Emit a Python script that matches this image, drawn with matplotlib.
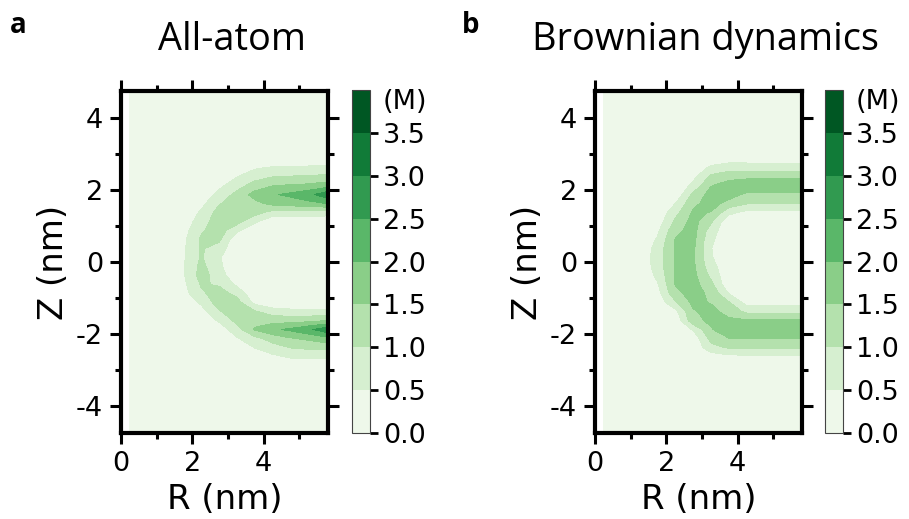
import matplotlib
matplotlib.use("Agg")
import matplotlib.pyplot as plt
import numpy as np
from matplotlib.ticker import MultipleLocator

plt.rcParams["axes.unicode_minus"] = False

# grid of the concentration maps (nm)
r_nm = [0.25, 0.75, 1.25, 1.75, 2.25, 2.75, 3.25, 3.75, 4.25, 4.75, 5.25, 5.75]
z_nm = [4.75, 2.875, 2.625, 2.375, 2.125, 1.875, 1.625, 1.375, 1.125, 0.875, 0.625, 0.375, 0.125,
        -0.125, -0.375, -0.625, -0.875, -1.125, -1.375, -1.625, -1.875, -2.125, -2.375, -2.625,
        -2.875, -4.75]

# ion concentration (M), rows follow z_nm, columns follow r_nm
conc_all_atom = [
    [0.1, 0.1, 0.1, 0.1, 0.1, 0.1, 0.1, 0.1, 0.1, 0.1, 0.1, 0.1],
    [0.1, 0.1, 0.1, 0.1, 0.1, 0.1, 0.1, 0.1, 0.1, 0.1, 0.1, 0.1],
    [0.1, 0.1, 0.1, 0.1, 0.1, 0.1, 0.2, 0.43, 0.54, 0.57, 0.58, 0.59],
    [0.1, 0.1, 0.1, 0.1, 0.1, 0.2, 0.48, 0.8, 0.98, 1.02, 1.05, 1.11],
    [0.1, 0.1, 0.1, 0.1, 0.1, 0.38, 0.8, 1.2, 1.48, 1.55, 1.6, 1.75],
    [0.1, 0.1, 0.1, 0.1, 0.15, 0.65, 1.15, 1.7, 1.95, 2.1, 2.35, 2.8],
    [0.1, 0.1, 0.1, 0.1, 0.35, 0.95, 1.3, 1.35, 1.65, 1.75, 1.85, 2.0],
    [0.1, 0.1, 0.1, 0.1, 0.58, 1.2, 1.3, 1.2, 0.8, 0.78, 0.8, 0.75],
    [0.1, 0.1, 0.1, 0.2, 0.75, 1.3, 1.2, 0.6, 0.1, 0.1, 0.1, 0.1],
    [0.1, 0.1, 0.1, 0.3, 0.94, 1.25, 0.6, 0.1, 0.1, 0.1, 0.1, 0.1],
    [0.1, 0.1, 0.1, 0.38, 1.08, 1.1, 0.1, 0.1, 0.1, 0.1, 0.1, 0.1],
    [0.1, 0.1, 0.1, 0.42, 1.06, 0.75, 0.1, 0.1, 0.1, 0.1, 0.1, 0.1],
    [0.1, 0.1, 0.1, 0.44, 1.05, 0.55, 0.1, 0.1, 0.1, 0.1, 0.1, 0.1],
    [0.1, 0.1, 0.1, 0.46, 1.15, 0.6, 0.1, 0.1, 0.1, 0.1, 0.1, 0.1],
    [0.1, 0.1, 0.1, 0.44, 1.2, 0.75, 0.1, 0.1, 0.1, 0.1, 0.1, 0.1],
    [0.1, 0.1, 0.1, 0.38, 1.05, 0.95, 0.4, 0.1, 0.1, 0.1, 0.1, 0.1],
    [0.1, 0.1, 0.1, 0.3, 0.92, 1.2, 0.85, 0.1, 0.1, 0.1, 0.1, 0.1],
    [0.1, 0.1, 0.1, 0.2, 0.58, 1.25, 1.2, 0.35, 0.1, 0.1, 0.1, 0.1],
    [0.1, 0.1, 0.1, 0.1, 0.3, 0.95, 1.3, 1.05, 0.75, 0.65, 0.62, 0.64],
    [0.1, 0.1, 0.1, 0.1, 0.1, 0.57, 1.15, 1.35, 1.3, 1.3, 1.35, 1.48],
    [0.1, 0.1, 0.1, 0.1, 0.1, 0.2, 0.8, 1.55, 1.9, 2.1, 2.4, 2.8],
    [0.1, 0.1, 0.1, 0.1, 0.1, 0.1, 0.45, 0.85, 1.2, 1.45, 1.6, 1.82],
    [0.1, 0.1, 0.1, 0.1, 0.1, 0.1, 0.15, 0.52, 0.8, 1.02, 1.1, 1.15],
    [0.1, 0.1, 0.1, 0.1, 0.1, 0.1, 0.1, 0.2, 0.4, 0.58, 0.6, 0.6],
    [0.1, 0.1, 0.1, 0.1, 0.1, 0.1, 0.1, 0.1, 0.1, 0.1, 0.1, 0.1],
    [0.1, 0.1, 0.1, 0.1, 0.1, 0.1, 0.1, 0.1, 0.1, 0.1, 0.1, 0.1],
]

conc_brownian = [
    [0.1, 0.1, 0.1, 0.1, 0.1, 0.1, 0.1, 0.1, 0.1, 0.1, 0.1, 0.1],
    [0.1, 0.1, 0.1, 0.1, 0.1, 0.1, 0.15, 0.23, 0.23, 0.23, 0.23, 0.23],
    [0.1, 0.1, 0.1, 0.1, 0.1, 0.1, 0.6, 0.78, 0.77, 0.77, 0.77, 0.77],
    [0.1, 0.1, 0.1, 0.1, 0.1, 0.35, 1.1, 1.3, 1.35, 1.35, 1.35, 1.35],
    [0.1, 0.1, 0.1, 0.1, 0.1, 0.62, 1.47, 1.75, 1.9, 1.9, 1.9, 1.9],
    [0.1, 0.1, 0.1, 0.1, 0.1, 1.12, 1.7, 1.75, 1.38, 1.38, 1.38, 1.38],
    [0.1, 0.1, 0.1, 0.1, 0.5, 1.38, 1.7, 1.3, 1.03, 1.03, 1.03, 1.03],
    [0.1, 0.1, 0.1, 0.1, 0.82, 1.58, 1.48, 0.65, 0.35, 0.35, 0.35, 0.35],
    [0.1, 0.1, 0.1, 0.2, 1.1, 1.68, 1.08, 0.1, 0.1, 0.1, 0.1, 0.1],
    [0.1, 0.1, 0.1, 0.4, 1.35, 1.7, 0.75, 0.1, 0.1, 0.1, 0.1, 0.1],
    [0.1, 0.1, 0.1, 0.55, 1.52, 1.65, 0.6, 0.1, 0.1, 0.1, 0.1, 0.1],
    [0.1, 0.1, 0.1, 0.7, 1.55, 1.6, 0.52, 0.1, 0.1, 0.1, 0.1, 0.1],
    [0.1, 0.1, 0.1, 0.75, 1.55, 1.58, 0.55, 0.1, 0.1, 0.1, 0.1, 0.1],
    [0.1, 0.1, 0.1, 0.72, 1.55, 1.6, 0.7, 0.1, 0.1, 0.1, 0.1, 0.1],
    [0.1, 0.1, 0.1, 0.6, 1.55, 1.65, 0.88, 0.1, 0.1, 0.1, 0.1, 0.1],
    [0.1, 0.1, 0.1, 0.45, 1.52, 1.7, 1.15, 0.1, 0.1, 0.1, 0.1, 0.1],
    [0.1, 0.1, 0.1, 0.3, 1.35, 1.7, 1.38, 0.48, 0.1, 0.1, 0.1, 0.1],
    [0.1, 0.1, 0.1, 0.15, 0.92, 1.62, 1.47, 1.05, 0.3, 0.3, 0.3, 0.3],
    [0.1, 0.1, 0.1, 0.1, 0.35, 1.45, 1.65, 1.3, 0.88, 0.88, 0.88, 0.88],
    [0.1, 0.1, 0.1, 0.1, 0.1, 1.35, 1.6, 1.6, 1.55, 1.55, 1.55, 1.55],
    [0.1, 0.1, 0.1, 0.1, 0.1, 0.55, 1.45, 1.85, 1.9, 1.9, 1.9, 1.9],
    [0.1, 0.1, 0.1, 0.1, 0.1, 0.15, 1.15, 1.48, 1.48, 1.48, 1.48, 1.48],
    [0.1, 0.1, 0.1, 0.1, 0.1, 0.1, 0.85, 1.05, 1.06, 1.06, 1.06, 1.06],
    [0.1, 0.1, 0.1, 0.1, 0.1, 0.1, 0.2, 0.38, 0.4, 0.4, 0.4, 0.4],
    [0.1, 0.1, 0.1, 0.1, 0.1, 0.1, 0.1, 0.1, 0.1, 0.1, 0.1, 0.1],
    [0.1, 0.1, 0.1, 0.1, 0.1, 0.1, 0.1, 0.1, 0.1, 0.1, 0.1, 0.1],
]

levels = [0.0, 0.5, 1.0, 1.5, 2.0, 2.5, 3.0, 3.5, 4.0]
cbar_ticks = [0.0, 0.5, 1.0, 1.5, 2.0, 2.5, 3.0, 3.5]
titles = ["All-atom", "Brownian dynamics"]
panel_tags = ["a", "b"]

W, H = 909, 519
fig = plt.figure(figsize=(W / 100, H / 100), dpi=100)


def box(x0, y0, x1, y1):
    # pixel box (top-left origin) -> figure fraction
    return [x0 / W, 1 - y1 / H, (x1 - x0) / W, (y1 - y0) / H]


panels = [
    (box(121, 91, 328, 433), box(352, 90, 370, 433), conc_all_atom, 232, 10),
    (box(595, 91, 802, 433), box(825, 90, 843, 433), conc_brownian, 705, 462),
]

for i, (pos, cpos, conc, title_x, tag_x) in enumerate(panels):
    ax = fig.add_axes(pos)
    cs = ax.contourf(r_nm, z_nm, np.array(conc), levels=levels, cmap="Greens")
    ax.set_xlim(0, 5.8)
    ax.set_ylim(-4.75, 4.75)
    ax.xaxis.set_major_locator(MultipleLocator(2))
    ax.xaxis.set_minor_locator(MultipleLocator(1))
    ax.yaxis.set_major_locator(MultipleLocator(2))
    ax.yaxis.set_minor_locator(MultipleLocator(1))
    ax.tick_params(which="both", direction="out", top=True, right=True,
                   width=2.2, labelsize=19.5)
    ax.tick_params(which="major", length=8, pad=5)
    ax.tick_params(which="minor", length=4.5)
    for sp in ax.spines.values():
        sp.set_linewidth(3)
    ax.set_xlabel("R (nm)", fontsize=24.5, labelpad=4)
    ax.set_ylabel("Z (nm)", fontsize=24.5, labelpad=4)

    cax = fig.add_axes(cpos)
    cb = fig.colorbar(cs, cax=cax, ticks=cbar_ticks)
    cb.ax.set_yticklabels([f"{t:.1f}" for t in cbar_ticks])
    cb.ax.tick_params(length=6, width=2, labelsize=19.5)
    cb.outline.set_linewidth(0.8)
    cb.outline.set_edgecolor("#444444")
    cax.text(1.72, 0.965, "(M)", transform=cax.transAxes, fontsize=19.5,
             ha="left", va="center")

    fig.text(title_x / W, 1 - 50 / H, titles[i], ha="center", va="baseline",
             fontsize=27.3, family="Open Sans")
    fig.text(tag_x / W, 1 - 33 / H, panel_tags[i], ha="left", va="baseline",
             fontsize=20, fontweight="bold", family="Open Sans")

fig.savefig("out.png", dpi=100)
